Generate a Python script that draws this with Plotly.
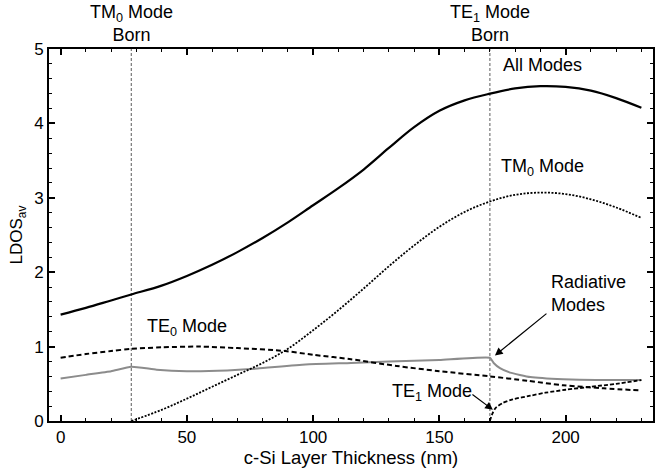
import plotly.graph_objects as go

# Data (thickness in nm, LDOS_av)
all_x = [0, 10, 20, 28, 40, 50, 60, 70, 80, 90, 100, 110, 120, 130, 140, 150, 160, 170, 180, 190, 200, 210, 220, 230]
all_y = [1.43, 1.52, 1.62, 1.70, 1.82, 1.95, 2.10, 2.27, 2.46, 2.67, 2.90, 3.13, 3.38, 3.67, 3.95, 4.17, 4.31, 4.40, 4.47, 4.50, 4.49, 4.44, 4.34, 4.21]

tm0_x = [28, 40, 50, 60, 70, 80, 90, 100, 110, 120, 130, 140, 150, 160, 170, 180, 190, 200, 210, 220, 230]
tm0_y = [0.0, 0.15, 0.30, 0.46, 0.62, 0.78, 0.97, 1.22, 1.49, 1.78, 2.08, 2.36, 2.61, 2.81, 2.95, 3.04, 3.07, 3.05, 2.98, 2.87, 2.73]

te0_x = [0, 10, 20, 28, 40, 55, 70, 89, 100, 115, 133, 150, 170, 185, 199, 215, 230]
te0_y = [0.85, 0.90, 0.94, 0.97, 0.99, 1.00, 0.98, 0.94, 0.89, 0.83, 0.74, 0.67, 0.60, 0.54, 0.48, 0.44, 0.41]

rad_x = [0, 10, 20, 28, 38, 50, 66, 78, 97, 115, 130, 150, 170, 171.5, 174, 178, 186, 199, 212, 230]
rad_y = [0.57, 0.62, 0.67, 0.73, 0.69, 0.67, 0.68, 0.705, 0.76, 0.78, 0.80, 0.82, 0.85, 0.78, 0.71, 0.65, 0.59, 0.56, 0.55, 0.55]

te1_x = [170, 171, 172.4, 175, 179, 186, 192, 200, 210, 220, 230]
te1_y = [0.0, 0.10, 0.18, 0.24, 0.29, 0.34, 0.38, 0.42, 0.46, 0.50, 0.55]

mode_born_x = [28, 170]
mode_born_labels = ["TM<sub>0</sub> Mode<br>Born", "TE<sub>1</sub> Mode<br>Born"]

FONT = "Liberation Sans, Arial, Helvetica, sans-serif"

fig = go.Figure()

def add(x, y, color, dash, width, smooth=0.8):
    fig.add_trace(go.Scatter(x=x, y=y, mode="lines",
                             line=dict(color=color, dash=dash, width=width, shape="spline", smoothing=smooth),
                             showlegend=False, hoverinfo="skip"))

add(rad_x, rad_y, "#8c8c8c", "solid", 2, 0.4)
add(te0_x, te0_y, "black", "5px,3px", 2)
add(tm0_x, tm0_y, "black", "2px,1.5px", 1.8, 1.0)
add(te1_x, te1_y, "black", "4px,2px", 1.8)
add(all_x, all_y, "black", "solid", 2.2, 1.0)

ann_font = dict(size=18, color="black", family=FONT)

for xv, lab in zip(mode_born_x, mode_born_labels):
    fig.add_shape(type="line", x0=xv, x1=xv, y0=0, y1=5, xref="x", yref="y",
                  line=dict(color="#777777", width=1.2, dash="3px,2px"), layer="below")
    fig.add_annotation(x=xv, y=1.0, xref="x", yref="paper", yanchor="bottom", yshift=2,
                       text=lab, showarrow=False, font=ann_font, align="center")

fig.add_annotation(x=191, y=4.63, text="All Modes", showarrow=False, font=ann_font, yanchor="bottom")
fig.add_annotation(x=191, y=3.22, text="TM<sub>0</sub> Mode", showarrow=False, font=ann_font, yanchor="bottom")
fig.add_annotation(x=50, y=1.08, text="TE<sub>0</sub> Mode", showarrow=False, font=ann_font, yanchor="bottom")
fig.add_annotation(x=193.5, y=1.72, text="Radiative<br>Modes", showarrow=False, font=ann_font,
                   xanchor="left", align="left")
# arrow to radiative modes
fig.add_annotation(x=172.0, y=0.88, ax=193.0, ay=1.46, xref="x", yref="y", axref="x", ayref="y",
                   text="", showarrow=True, arrowhead=2, arrowsize=1.3, arrowwidth=1.2, arrowcolor="black")
# TE1 label and arrow
fig.add_annotation(x=147, y=0.38, text="TE<sub>1</sub> Mode", showarrow=False, font=ann_font)
fig.add_annotation(x=171.2, y=0.15, ax=162.5, ay=0.37, xref="x", yref="y", axref="x", ayref="y",
                   text="", showarrow=True, arrowhead=2, arrowsize=1.3, arrowwidth=1.2, arrowcolor="black")

axis_common = dict(showline=True, linecolor="black", linewidth=2, mirror="ticks",
                   ticks="inside", tickcolor="black", tickwidth=1.5, ticklen=6,
                   showgrid=False, zeroline=False,
                   tickfont=dict(size=17, color="black", family=FONT))

fig.update_xaxes(range=[-4.6, 234.6], dtick=50, tick0=0,
                 minor=dict(dtick=10, ticks="inside", ticklen=3, tickcolor="black", tickwidth=1),
                 title=dict(text="c-Si Layer Thickness (nm)", font=dict(size=18.5, color="black", family=FONT), standoff=5),
                 **axis_common)
fig.update_yaxes(range=[0, 5], dtick=1, tick0=0,
                 minor=dict(dtick=0.2, ticks="inside", ticklen=3, tickcolor="black", tickwidth=1),
                 title=dict(text="LDOS<sub>av</sub>", font=dict(size=17, color="black", family=FONT), standoff=7),
                 **axis_common)

fig.update_layout(width=672, height=476, margin=dict(l=49, r=19, t=49, b=55),
                  plot_bgcolor="white", paper_bgcolor="white",
                  font=dict(family=FONT, color="black"))

fig.write_html("out.html")
